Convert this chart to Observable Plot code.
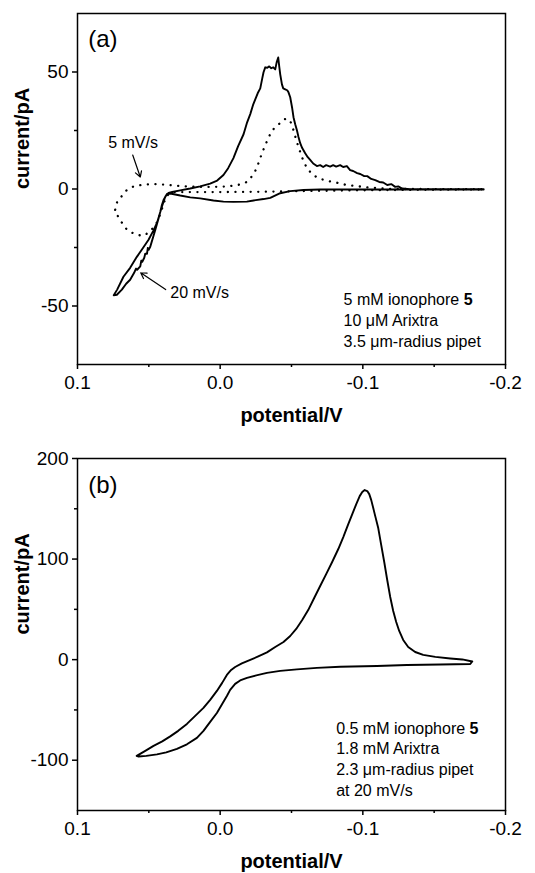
<!DOCTYPE html>
<html><head><meta charset="utf-8">
<script src="https://cdn.jsdelivr.net/npm/d3@7"></script>
<script src="https://cdn.jsdelivr.net/npm/@observablehq/plot@0.6"></script>
<style>
body{margin:0;background:#fff;}
svg{font-family:"Liberation Sans",Arial,Helvetica,sans-serif;}
</style>
</head><body>
<div id="chart"></div>
<script>
// ---- axes ----
const xTicks = [0.1, 0.0, -0.1, -0.2];
const xMinorTicks = [0.05, -0.05, -0.15];
const yTicksA = [-50, 0, 50];
const yMinorTicksA = [-25, 25];
const yTicksB = [-100, 0, 100, 200];
const yMinorTicksB = [-50, 50, 150];
const xLabel = "potential/V";
const yLabel = "current/pA";

// ---- panel (a): 20 mV/s (solid) ----
const a20Forward = [[0.0746,-45.4],[0.0722,-43.0],[0.0678,-37.5],[0.0631,-33.7],[0.0584,-29.0],[0.0540,-25.1],[0.0502,-21.7],[0.0469,-17.9],[0.0443,-14.5],[0.0424,-10.7],[0.0408,-7.5],[0.0385,-3.3],[0.0362,-1.7],[0.0336,-1.3],[0.0280,-0.6],[0.0210,0.2],[0.0140,1.1],[0.0070,2.3],[0.0021,3.6],[-0.0023,6.0],[-0.0056,8.9],[-0.0093,13.2],[-0.0126,18.3],[-0.0164,23.4],[-0.0189,28.5],[-0.0211,32.0],[-0.0232,36.2],[-0.0246,38.3],[-0.0263,40.9],[-0.0281,43.0],[-0.0295,47.3],[-0.0304,49.9],[-0.0316,52.0],[-0.0330,51.8],[-0.0344,52.4],[-0.0358,51.6],[-0.0372,52.0],[-0.0386,51.1],[-0.0396,54.1],[-0.0407,56.2],[-0.0414,52.4],[-0.0421,49.0],[-0.0433,44.7],[-0.0442,43.0],[-0.0456,42.6],[-0.0470,42.2],[-0.0479,41.3],[-0.0491,39.2],[-0.0505,34.5],[-0.0514,30.7],[-0.0526,27.7],[-0.0538,25.1],[-0.0549,22.2],[-0.0561,19.6],[-0.0575,17.5],[-0.0596,15.3],[-0.0614,13.6],[-0.0631,12.4],[-0.0652,10.9],[-0.0678,9.8],[-0.0701,10.2],[-0.0722,9.4],[-0.0743,10.2],[-0.0771,9.6],[-0.0792,10.2],[-0.0813,9.6],[-0.0841,10.2],[-0.0862,9.4],[-0.0888,9.8],[-0.0911,8.1],[-0.0932,7.7],[-0.0960,6.8],[-0.0982,6.4],[-0.1010,5.5],[-0.1031,5.5],[-0.1059,4.3],[-0.1087,3.8],[-0.1115,3.0],[-0.1143,2.8],[-0.1171,1.7],[-0.1199,2.1],[-0.1227,0.9],[-0.1248,1.1],[-0.1276,0.2],[-0.1332,-0.1],[-0.1542,-0.1],[-0.1847,-0.1]];
const a20Reverse = [[-0.1847,-0.2],[-0.1542,-0.2],[-0.1262,-0.2],[-0.0982,-0.2],[-0.0701,-0.2],[-0.0584,-0.4],[-0.0491,-0.9],[-0.0421,-1.8],[-0.0351,-3.8],[-0.0304,-4.3],[-0.0234,-4.9],[-0.0187,-5.4],[-0.0093,-5.5],[-0.0023,-5.4],[0.0047,-4.9],[0.0140,-4.0],[0.0210,-3.6],[0.0280,-2.8],[0.0350,-1.9],[0.0373,-2.1],[0.0397,-4.7],[0.0410,-7.2],[0.0420,-9.8],[0.0431,-12.4],[0.0443,-14.9],[0.0455,-17.5],[0.0467,-20.0],[0.0480,-22.6],[0.0490,-24.7],[0.0501,-26.0],[0.0507,-25.2],[0.0513,-27.7],[0.0525,-27.6],[0.0532,-29.4],[0.0546,-31.1],[0.0553,-30.6],[0.0560,-33.1],[0.0582,-34.5],[0.0590,-34.0],[0.0603,-35.8],[0.0631,-38.8],[0.0659,-40.5],[0.0689,-43.0],[0.0724,-45.2],[0.0746,-45.4]];

// ---- panel (a): 5 mV/s (dotted) ----
const a5Forward = [[0.0736,-8.9],[0.0722,-5.5],[0.0689,-3.0],[0.0654,-0.4],[0.0607,1.1],[0.0537,1.9],[0.0467,2.1],[0.0397,1.9],[0.0327,1.5],[0.0233,1.1],[0.0140,0.9],[0.0049,0.9],[-0.0047,1.1],[-0.0140,1.9],[-0.0187,3.0],[-0.0218,5.1],[-0.0246,7.7],[-0.0269,11.1],[-0.0293,15.3],[-0.0316,18.7],[-0.0337,21.7],[-0.0358,24.3],[-0.0379,26.0],[-0.0402,27.3],[-0.0428,28.5],[-0.0449,29.8],[-0.0470,30.0],[-0.0486,29.6],[-0.0501,27.7],[-0.0514,25.1],[-0.0538,20.0],[-0.0561,15.8],[-0.0584,11.9],[-0.0608,9.0],[-0.0643,6.4],[-0.0689,4.6],[-0.0748,3.5],[-0.0818,2.7],[-0.0888,1.7],[-0.1031,0.7],[-0.1193,0],[-0.1402,0],[-0.1847,-0.1]];
const a5Reverse = [[-0.1847,-0.2],[-0.1262,-0.4],[-0.0911,-0.6],[-0.0561,-0.9],[-0.0281,-1.2],[0.0000,-1.3],[0.0210,-1.3],[0.0336,-1.3],[0.0378,-3.0],[0.0399,-6.8],[0.0420,-10.7],[0.0441,-14.1],[0.0469,-16.6],[0.0504,-18.7],[0.0537,-20.0],[0.0584,-19.6],[0.0631,-18.3],[0.0666,-16.6],[0.0697,-13.6],[0.0722,-11.1],[0.0736,-8.9]];

// ---- panel (b): 20 mV/s ----
const bForward = [[0.0585,-95.7],[0.0525,-90.7],[0.0467,-85.7],[0.0406,-81.3],[0.0350,-76.3],[0.0294,-70.8],[0.0233,-63.9],[0.0175,-55.9],[0.0117,-48.0],[0.0070,-40.0],[0.0023,-31.1],[-0.0014,-23.1],[-0.0047,-15.2],[-0.0077,-10.2],[-0.0105,-7.3],[-0.0152,-3.8],[-0.0211,-0.3],[-0.0267,3.2],[-0.0328,7.2],[-0.0386,12.6],[-0.0444,17.6],[-0.0491,23.5],[-0.0533,30.5],[-0.0575,39.4],[-0.0617,49.3],[-0.0659,61.3],[-0.0701,73.2],[-0.0743,85.1],[-0.0785,97.1],[-0.0828,110.0],[-0.0863,121.9],[-0.0898,134.8],[-0.0926,144.7],[-0.0954,154.7],[-0.0978,162.6],[-0.0996,166.6],[-0.1013,168.6],[-0.1031,167.6],[-0.1045,164.6],[-0.1059,158.6],[-0.1073,150.7],[-0.1087,142.7],[-0.1108,130.8],[-0.1129,113.9],[-0.1150,97.1],[-0.1171,79.2],[-0.1192,62.3],[-0.1213,48.4],[-0.1234,37.5],[-0.1255,28.5],[-0.1283,19.6],[-0.1318,12.6],[-0.1367,7.6],[-0.1423,4.7],[-0.1508,2.7],[-0.1613,1.2],[-0.1697,0.2],[-0.1767,-1.8]];
const bReverse = [[-0.1753,-4.3],[-0.1543,-4.8],[-0.1309,-5.3],[-0.1099,-6.3],[-0.0842,-7.0],[-0.0678,-8.2],[-0.0538,-9.7],[-0.0421,-11.2],[-0.0328,-13.2],[-0.0253,-15.7],[-0.0188,-18.2],[-0.0140,-20.7],[-0.0105,-24.1],[-0.0070,-30.1],[-0.0047,-36.1],[-0.0014,-44.0],[0.0023,-53.0],[0.0070,-61.9],[0.0117,-70.8],[0.0163,-77.8],[0.0233,-84.2],[0.0303,-88.7],[0.0378,-92.2],[0.0443,-94.2],[0.0518,-95.7],[0.0572,-96.3],[0.0585,-95.7]];

// ---- annotations ----
const panelTagA = "(a)";
const panelTagB = "(b)";
const rateLabels = ["5 mV/s", "20 mV/s"];
const conditionsA = ["5 mM ionophore 5", "10 μM Arixtra", "3.5 μm-radius pipet"];
const conditionsB = ["0.5 mM ionophore 5", "1.8 mM Arixtra", "2.3 μm-radius pipet", "at 20 mV/s"];

// annotation anchor points (data units)
const tagPosA = {x: 0.0925, y: 67.8};
const tagPosB = {x: 0.0925, y: 183};
const ratePos = [{x: 0.0785, y: 22.3}, {x: 0.035, y: -41.6}];
const arrowsA = [{x1: 0.0613, y1: 14.5, x2: 0.0560, y2: 5.1}, {x1: 0.0382, y1: -43.0, x2: 0.0557, y2: -35.8}];
const condPosA = {x: -0.0865, y: -43.1};
const condPosB = {x: -0.0813, y: -59.1};

const fontFamily = '"Liberation Sans", Arial, Helvetica, sans-serif';
const fmtX = d => d.toFixed(1);
const fmtY = d => String(d);

function commonMarks(yTicks, yMinor) {
  return [
    Plot.frame({stroke: "black", strokeWidth: 1.5}),
    Plot.axisX(xTicks, {tickSize: 5, tickPadding: 6, fontSize: 19, tickFormat: fmtX, strokeWidth: 1.5, label: null}),
    Plot.axisX(xMinorTicks, {tickSize: 3, tickFormat: () => "", strokeWidth: 1.5, label: null}),
    Plot.axisY(yTicks, {tickSize: 5, tickPadding: 4, fontSize: 19, tickFormat: fmtY, strokeWidth: 1.5, label: null}),
    Plot.axisY(yMinor, {tickSize: 3, tickFormat: () => "", strokeWidth: 1.5, label: null}),
    Plot.text([xLabel], {frameAnchor: "bottom", dy: 51, fontSize: 20, fontWeight: "bold", lineAnchor: "middle"}),
    Plot.text([yLabel], {frameAnchor: "left", dx: -55, rotate: -90, fontSize: 20, fontWeight: "bold", lineAnchor: "middle"})
  ];
}

const plotA = Plot.plot({
  width: 535, height: 430,
  marginTop: 13, marginBottom: 66, marginLeft: 77, marginRight: 30,
  style: {fontFamily, background: "white", color: "black", overflow: "visible"},
  x: {domain: [0.1, -0.2]},
  y: {domain: [-75, 75]},
  marks: [
    ...commonMarks(yTicksA, yMinorTicksA),
    Plot.line(a5Forward.concat(a5Reverse), {x: d => d[0], y: d => d[1], stroke: "black", strokeWidth: 2.3, strokeDasharray: "0.1,7.5", strokeLinecap: "round"}),
    Plot.line(a20Forward.concat(a20Reverse), {x: d => d[0], y: d => d[1], stroke: "black", strokeWidth: 1.9, strokeLinejoin: "round"}),
    Plot.arrow(arrowsA, {x1: "x1", y1: "y1", x2: "x2", y2: "y2", stroke: "black", strokeWidth: 1.2, headLength: 8}),
    Plot.text(rateLabels, {x: (d, i) => ratePos[i].x, y: (d, i) => ratePos[i].y, text: d => d, textAnchor: "start", lineAnchor: "top", fontSize: 16}),
    Plot.text([panelTagA], {x: tagPosA.x, y: tagPosA.y, textAnchor: "start", lineAnchor: "top", fontSize: 24}),
    Plot.text([conditionsA.join("\n")], {x: condPosA.x, y: condPosA.y, textAnchor: "start", lineAnchor: "top", fontSize: 16, lineHeight: 1.31})
  ]
});

const plotB = Plot.plot({
  width: 535, height: 443,
  marginTop: 28, marginBottom: 63, marginLeft: 77, marginRight: 30,
  style: {fontFamily, background: "white", color: "black", overflow: "visible"},
  x: {domain: [0.1, -0.2]},
  y: {domain: [-150, 200]},
  marks: [
    ...commonMarks(yTicksB, yMinorTicksB),
    Plot.line(bForward.concat(bReverse), {x: d => d[0], y: d => d[1], stroke: "black", strokeWidth: 1.9, strokeLinejoin: "round"}),
    Plot.text([panelTagB], {x: tagPosB.x, y: tagPosB.y, textAnchor: "start", lineAnchor: "top", fontSize: 24}),
    Plot.text([conditionsB.join("\n")], {x: condPosB.x, y: condPosB.y, textAnchor: "start", lineAnchor: "top", fontSize: 16, lineHeight: 1.29})
  ]
});

function boldTrailingCompound(svg) {
  d3.select(svg).selectAll("text, tspan").each(function() {
    if (this.childNodes.length === 1 && this.firstChild.nodeType === 3 && /ionophore 5$/.test(this.textContent)) {
      const t = this.textContent;
      this.textContent = t.slice(0, -1);
      d3.select(this).append("tspan").attr("font-weight", "bold").text("5");
    }
  });
}
boldTrailingCompound(plotA);
boldTrailingCompound(plotB);

const root = document.getElementById("chart");
root.appendChild(plotA);
root.appendChild(plotB);
</script>
</body></html>
